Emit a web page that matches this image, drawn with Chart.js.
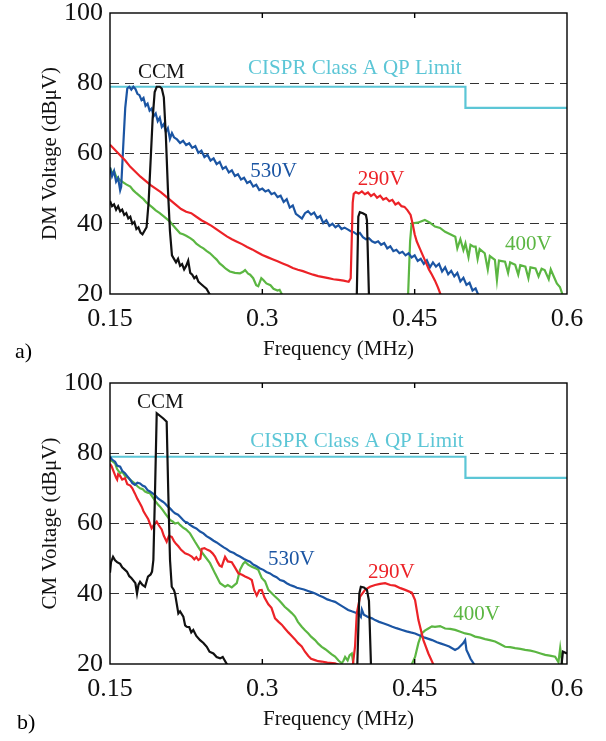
<!DOCTYPE html>
<html>
<head>
<meta charset="utf-8">
<script src="https://cdn.jsdelivr.net/npm/chart.js@4.4.0/dist/chart.umd.min.js"></script>
<style>
  body { margin: 0; background: #fff; width: 606px; height: 741px; position: relative; overflow: hidden; font-family: "Liberation Serif", serif; }
  canvas { position: absolute; left: 0; }
  #dm { top: 0; }
  #cm { top: 365px; }
  .tag { position: absolute; font-size: 22px; line-height: 22px; color: #000; }
</style>
</head>
<body>
<canvas id="dm" width="606" height="365"></canvas>
<canvas id="cm" width="606" height="376"></canvas>
<div class="tag" style="left:15px;top:340px">a)</div>
<div class="tag" style="left:17px;top:711px">b)</div>
<script>
// axis ticks
const xTicks = [0.15, 0.3, 0.45, 0.6];
const yTicks = [20, 40, 60, 80, 100];

// CISPR class A quasi-peak limit
const limit = [[0.15, 79], [0.5, 79], [0.5, 73], [0.6, 73]];

// ---- a) DM voltage, [MHz, dBuV]
const dmBlue = [[0.150,56],[0.152,53.5],[0.154,55],[0.156,52],[0.158,53],[0.160,49.5],[0.161,50.5],[0.163,62],[0.165,73],[0.167,78.5],[0.169,79],[0.171,78.2],[0.173,79],[0.175,78.4],[0.177,77],[0.179,76.6],[0.181,75.2],[0.183,75.8],[0.185,73.6],[0.187,74.2],[0.189,72.2],[0.191,72.8],[0.193,70.6],[0.195,71.4],[0.197,69.2],[0.199,70.2],[0.201,67.6],[0.203,68.4],[0.205,66.2],[0.207,67.2],[0.209,64.2],[0.211,65.8],[0.213,64.6],[0.216,64],[0.219,63],[0.222,63.6],[0.225,62.4],[0.228,62.9],[0.231,61.6],[0.234,62.1],[0.237,60.2],[0.240,60.8],[0.243,59],[0.246,59.6],[0.249,58],[0.252,58.6],[0.255,57],[0.258,57.6],[0.261,55.6],[0.264,56.2],[0.267,54.6],[0.270,55.2],[0.273,53.6],[0.276,54.1],[0.279,52.6],[0.282,53.1],[0.285,51.6],[0.288,52.1],[0.291,50.6],[0.294,51.1],[0.297,49.6],[0.300,50],[0.303,49.2],[0.306,49.6],[0.309,48.4],[0.312,48.8],[0.315,47.6],[0.318,48],[0.321,46.2],[0.324,47],[0.327,44.6],[0.330,45.2],[0.333,42.8],[0.336,42.2],[0.339,41.5],[0.342,43],[0.345,43.6],[0.348,42.6],[0.351,43.2],[0.354,41.6],[0.357,42.2],[0.360,40.2],[0.363,41],[0.366,39.4],[0.369,40],[0.372,39],[0.375,39.6],[0.378,38.5],[0.381,38.9],[0.384,38.4],[0.387,37.9],[0.390,37.6],[0.393,37],[0.396,37.4],[0.399,36.2],[0.402,35.6],[0.405,35.9],[0.408,35],[0.411,34.6],[0.414,35],[0.417,34],[0.420,34.5],[0.423,33],[0.426,33.6],[0.429,32.2],[0.432,32.6],[0.435,31.6],[0.438,32],[0.441,31],[0.444,31.6],[0.447,30.4],[0.450,31],[0.453,29.4],[0.456,30],[0.459,28.6],[0.462,29.6],[0.465,27.6],[0.468,29],[0.471,27.8],[0.474,28.6],[0.477,26.4],[0.480,27.6],[0.483,25.6],[0.486,26.6],[0.489,25],[0.492,26],[0.495,23.6],[0.498,24.6],[0.501,22.6],[0.504,23.2],[0.507,21],[0.510,21.6],[0.513,19.5]];
const dmRed = [[0.150,62.5],[0.155,61],[0.160,59.5],[0.165,58],[0.170,56.2],[0.175,54.8],[0.180,53.4],[0.185,52.2],[0.190,51],[0.195,50],[0.200,49],[0.205,47.8],[0.210,46.6],[0.215,45.4],[0.220,44.2],[0.225,43.4],[0.230,43],[0.235,42],[0.240,41],[0.245,40.2],[0.250,39.4],[0.255,38.4],[0.260,37.4],[0.265,36.4],[0.270,35.6],[0.275,34.9],[0.280,34.2],[0.285,33.4],[0.290,32.7],[0.295,31.9],[0.300,31.1],[0.305,30.5],[0.310,29.9],[0.315,29.3],[0.320,28.7],[0.325,28.1],[0.330,27.4],[0.335,26.9],[0.340,26.5],[0.345,26],[0.350,25.5],[0.355,25.1],[0.360,24.8],[0.365,24.5],[0.370,24.2],[0.375,24],[0.380,23.8],[0.385,23.5],[0.387,24.5],[0.388,35],[0.389,46],[0.390,48.5],[0.392,49],[0.395,48.6],[0.398,49.2],[0.401,48.4],[0.404,48.9],[0.407,47.9],[0.410,48.5],[0.413,47.4],[0.416,48],[0.419,46.9],[0.422,47.3],[0.425,46.4],[0.428,46.8],[0.431,45.5],[0.434,46],[0.437,45],[0.440,44.8],[0.443,43.8],[0.446,42.5],[0.448,40],[0.450,37],[0.452,35],[0.455,33],[0.458,31],[0.461,29],[0.464,27],[0.467,25.5],[0.470,23.8],[0.473,21.8],[0.476,19.5]];
const dmGreen1 = [[0.150,56],[0.152,54.5],[0.154,55],[0.156,53.5],[0.158,53],[0.160,52.4],[0.163,51.8],[0.166,51.2],[0.170,50.6],[0.173,49.5],[0.176,48.7],[0.180,47.7],[0.183,47],[0.186,46],[0.189,45.3],[0.192,44.6],[0.195,43.8],[0.199,43],[0.202,42.3],[0.205,41.6],[0.209,40.6],[0.212,39.6],[0.215,38.6],[0.219,37.3],[0.222,37],[0.225,36.6],[0.229,35.9],[0.232,35.3],[0.235,34.3],[0.239,33.5],[0.242,33],[0.245,32.3],[0.2485,31.6],[0.252,30.6],[0.255,29.8],[0.258,28.7],[0.261,28],[0.264,27.2],[0.268,26.4],[0.273,26],[0.278,25.9],[0.281,26.3],[0.283,26.8],[0.286,25.8],[0.288,25.5],[0.291,24.5],[0.294,22.5],[0.296,22.2],[0.299,24.5],[0.301,24],[0.304,23],[0.308,22.5],[0.311,21.5],[0.315,21],[0.317,21.2],[0.320,19.5]];
const dmGreen2 = [[0.4435,19.5],[0.4455,35],[0.447,40.1],[0.453,40.3],[0.460,41.1],[0.465,40.3],[0.470,39.2],[0.475,38.8],[0.480,37.7],[0.485,37],[0.490,36.3],[0.492,33],[0.495,35.6],[0.498,32.5],[0.500,34.4],[0.503,30.5],[0.505,34],[0.508,33.5],[0.510,33.5],[0.512,30],[0.514,32.8],[0.519,31.6],[0.522,27],[0.524,30.8],[0.529,29.7],[0.531,24],[0.533,29.5],[0.539,29.2],[0.542,26],[0.544,29],[0.549,28.3],[0.552,25.5],[0.554,28.2],[0.559,27.8],[0.562,24.5],[0.564,27.6],[0.569,27.3],[0.572,25],[0.575,27.2],[0.578,26.8],[0.582,24.2],[0.584,27],[0.587,25],[0.590,23],[0.593,22],[0.596,19.5]];
const dmBlack1 = [[0.150,46.5],[0.152,45],[0.154,45.5],[0.156,44],[0.158,45],[0.160,43.5],[0.162,44],[0.164,42.5],[0.166,43],[0.168,41.5],[0.170,42],[0.172,40],[0.174,40.5],[0.176,38.5],[0.178,39],[0.180,37.5],[0.182,37],[0.184,38],[0.186,39],[0.188,46],[0.190,58],[0.192,70],[0.194,77.5],[0.196,79],[0.199,79],[0.201,78.5],[0.203,76],[0.205,65],[0.207,50],[0.209,38],[0.211,31],[0.213,30],[0.215,29],[0.217,30],[0.219,28],[0.221,28.5],[0.223,27],[0.225,28],[0.227,29.5],[0.229,26],[0.231,25.5],[0.233,24.5],[0.235,25],[0.237,23.5],[0.239,23],[0.241,22.5],[0.243,22],[0.245,21.5],[0.247,20.5],[0.249,19.5]];
const dmBlack2 = [[0.393,19.5],[0.3945,42],[0.396,43.3],[0.399,43],[0.402,42.5],[0.403,41],[0.405,19.5]];

// ---- b) CM voltage, [MHz, dBuV]
const cmBlue = [[0.150,79],[0.152,78.2],[0.155,77.6],[0.157,76.5],[0.160,76.2],[0.162,75],[0.1648,74.3],[0.167,73.5],[0.170,72.4],[0.172,71.5],[0.1746,71],[0.177,71.6],[0.1796,71.4],[0.182,70.8],[0.1845,70.5],[0.187,69.5],[0.1894,69.1],[0.192,68.6],[0.1943,68.1],[0.197,67.2],[0.1993,66.7],[0.202,66.2],[0.2042,65.7],[0.207,64.8],[0.2091,64.3],[0.212,63.4],[0.214,62.9],[0.217,62.5],[0.219,61.9],[0.222,61],[0.2239,60.5],[0.226,60.3],[0.2288,59.6],[0.232,59],[0.235,58.6],[0.2387,57.7],[0.242,57.2],[0.245,56.4],[0.2485,55.8],[0.252,55.1],[0.255,54.6],[0.2584,53.9],[0.262,53.2],[0.265,52.7],[0.2682,52],[0.272,51.6],[0.275,51],[0.278,50.6],[0.282,49.9],[0.285,49.5],[0.2879,49.1],[0.291,48.3],[0.294,47.9],[0.2978,47.2],[0.301,46.8],[0.304,46.2],[0.3076,45.8],[0.311,45.1],[0.314,44.7],[0.3175,43.9],[0.321,43.6],[0.324,43],[0.3273,42.5],[0.331,42.1],[0.334,41.7],[0.337,41.5],[0.341,41.2],[0.345,40.8],[0.349,40.4],[0.352,40.1],[0.356,39.5],[0.360,39],[0.364,38.4],[0.368,38],[0.3716,37.7],[0.376,36.9],[0.380,36.2],[0.3845,35.4],[0.388,35],[0.392,34.6],[0.395,34.2],[0.397,33.4],[0.398,35.5],[0.400,34],[0.404,33.4],[0.408,33],[0.411,32.5],[0.415,32],[0.419,31.6],[0.4238,31.1],[0.428,30.6],[0.432,30.2],[0.4376,29.7],[0.442,29.3],[0.446,29],[0.4504,28.7],[0.455,28.1],[0.460,27.5],[0.4672,26.8],[0.472,26.2],[0.476,25.8],[0.480,25.4],[0.484,25],[0.4898,24],[0.493,24.5],[0.4977,25.9],[0.4997,26.8],[0.501,24],[0.5027,23],[0.505,21.5],[0.5095,19.5]];
const cmRed1 = [[0.150,77],[0.1517,76.2],[0.154,74.5],[0.156,73],[0.157,72.5],[0.158,74],[0.160,73.5],[0.162,72.5],[0.1648,72.9],[0.167,71.2],[0.170,70.8],[0.172,70],[0.1746,68.5],[0.177,67],[0.179,66],[0.1812,64.8],[0.183,63.5],[0.185,62.5],[0.1877,61.2],[0.191,58.6],[0.193,59.5],[0.196,60.5],[0.198,59.5],[0.2009,58.3],[0.203,56.5],[0.2058,54.8],[0.208,56.5],[0.2108,56.2],[0.213,55],[0.215,54.2],[0.2173,53.5],[0.220,52.5],[0.2239,51.5],[0.227,51.2],[0.2305,50.6],[0.233,49.8],[0.235,50.4],[0.237,49.6],[0.239,50],[0.2403,52.8],[0.243,53],[0.246,52.5],[0.2485,52.2],[0.251,51.5],[0.2534,50.6],[0.256,49],[0.258,48],[0.260,47.7],[0.2633,50.5],[0.266,49.2],[0.2699,49],[0.273,47.5],[0.2764,45.8],[0.280,45.4],[0.283,44.9],[0.2863,44.5],[0.2896,43.9],[0.292,41],[0.2945,39.5],[0.297,41],[0.2994,41.1],[0.302,39],[0.3059,37],[0.309,36],[0.3125,33],[0.316,32],[0.3191,31.2],[0.322,30.2],[0.3256,29],[0.329,28],[0.3322,27],[0.335,26],[0.3388,25],[0.342,23.5],[0.3453,22.3],[0.348,21.5],[0.3519,21.1],[0.355,20.8],[0.3585,20.7],[0.364,20.4],[0.3716,20.2],[0.377,19.5]];
const cmRed2 = [[0.389,19.5],[0.3913,25],[0.393,34.4],[0.3963,39.2],[0.4012,41.1],[0.406,42],[0.411,42.5],[0.416,42.8],[0.4209,43],[0.426,42.5],[0.4307,42.3],[0.436,41.6],[0.4406,41.1],[0.4472,40.3],[0.4504,38.2],[0.4537,32.5],[0.4586,26.8],[0.4635,23],[0.469,19.5]];
const cmGreen1 = [[0.150,78.1],[0.152,77.8],[0.155,77.1],[0.157,75.5],[0.160,74.3],[0.162,74.8],[0.165,73.5],[0.168,73],[0.170,72.4],[0.1746,71.4],[0.177,70.6],[0.1796,70],[0.182,69.8],[0.1845,69.1],[0.187,68.8],[0.1894,68.6],[0.192,67.5],[0.1943,66.5],[0.197,65.5],[0.1993,64.8],[0.202,63.8],[0.2042,62.9],[0.207,61.8],[0.2091,61],[0.212,60.5],[0.214,60],[0.217,60.2],[0.219,59.6],[0.222,58.8],[0.2249,58.3],[0.2288,57.2],[0.2337,54.8],[0.2387,52.5],[0.2436,50.6],[0.2485,48.7],[0.2534,45.8],[0.2584,43],[0.2633,42],[0.266,42.5],[0.2699,41.8],[0.2748,43],[0.278,46.8],[0.281,48.5],[0.283,49.1],[0.286,48.3],[0.2896,47.7],[0.293,47.3],[0.296,46.8],[0.2994,44.5],[0.3027,43.5],[0.3059,41.1],[0.309,40.2],[0.3125,39.2],[0.316,38.3],[0.3191,37.3],[0.322,36.3],[0.3256,35.4],[0.329,34.5],[0.3322,33.5],[0.335,32],[0.3388,30.6],[0.342,29.6],[0.3453,28.7],[0.348,27.8],[0.3519,26.8],[0.355,25.8],[0.3585,24.9],[0.362,24.2],[0.365,23.5],[0.368,22.8],[0.3716,22.1],[0.375,21],[0.3782,20.2],[0.380,21],[0.3815,22],[0.384,21],[0.386,22.5],[0.3881,23],[0.390,19.5]];
const cmGreen2 = [[0.4465,19.5],[0.4504,22],[0.4537,26],[0.457,28.7],[0.460,29.5],[0.4635,30.1],[0.467,30.7],[0.470,30.6],[0.475,30.8],[0.480,30.1],[0.485,30],[0.4898,29.7],[0.495,29.2],[0.4997,28.7],[0.505,28.4],[0.5095,27.8],[0.5145,27.5],[0.5194,27.1],[0.524,26.8],[0.5292,26.4],[0.534,25.7],[0.539,24.9],[0.544,24.8],[0.5489,24.5],[0.554,24.3],[0.5588,24],[0.564,23.8],[0.5686,23.5],[0.574,23],[0.5785,22.6],[0.583,22.4],[0.5883,22.1],[0.5916,20.5],[0.5933,24.5],[0.5955,19.5]];
const cmBlack1 = [[0.150,46],[0.151,49],[0.153,50.5],[0.155,49.5],[0.157,49],[0.160,48.5],[0.162,47.5],[0.164,47],[0.1667,46.3],[0.169,45],[0.171,44.5],[0.1727,43.9],[0.175,43],[0.1766,40.1],[0.178,42.5],[0.1796,43.4],[0.182,42.5],[0.1845,42],[0.186,43.5],[0.1874,44.9],[0.190,45.5],[0.1914,46.3],[0.1927,49.6],[0.1943,68.6],[0.196,91.4],[0.2025,89.9],[0.2058,89],[0.2074,68.6],[0.2091,49.6],[0.2108,42],[0.213,41],[0.214,40.1],[0.2173,34.4],[0.219,35],[0.2222,33.5],[0.224,31],[0.2255,30.6],[0.228,30.5],[0.230,29],[0.232,29.7],[0.235,28],[0.2387,26.8],[0.242,26],[0.2453,24.9],[0.248,23.5],[0.2518,23],[0.255,22],[0.2584,21.6],[0.261,22],[0.263,21],[0.266,19.5]];
const cmBlack2 = [[0.3935,19.5],[0.3955,40],[0.397,42],[0.400,41.8],[0.403,41.1],[0.405,38],[0.407,19.5]];
const cmBlack3 = [[0.5945,19.5],[0.596,23.5],[0.600,23]];

// text labels inside the plots: [text, colour, x (MHz), y (dBuV) of baseline start]
const dmLabels = [["CCM", "#111", 0.1776, 81.5], ["CISPR Class A QP Limit", "#5cc6d6", 0.286, 82.5], ["530V", "#1b55a3", 0.288, 53.3], ["290V", "#ec2227", 0.394, 51], ["400V", "#5bb642", 0.539, 32.5]];
const cmLabels = [["CCM", "#111", 0.1766, 92.9], ["CISPR Class A QP Limit", "#5cc6d6", 0.288, 81.8], ["530V", "#1b55a3", 0.3056, 48.2], ["290V", "#ec2227", 0.404, 44.5], ["400V", "#5bb642", 0.488, 32.5]];

const SERIF = '"Liberation Serif", "Times New Roman", serif';
Chart.defaults.font.family = SERIF;
Chart.defaults.color = "#111";

const pts = (arr) => arr.map(([x, y]) => ({ x, y }));
const line = (arr, color) => ({ data: pts(arr), borderColor: color, borderWidth: 2.2, pointRadius: 0, tension: 0, fill: false });

const framePlugin = {
  id: "frame",
  afterDatasetsDraw(chart, args, opts) {
    const { ctx, chartArea: a, scales: { x, y } } = chart;
    ctx.save();
    ctx.strokeStyle = "#000";
    ctx.lineWidth = 1.4;
    ctx.strokeRect(a.left, a.top, a.right - a.left, a.bottom - a.top);
    ctx.beginPath();
    xTicks.slice(1, -1).forEach((v) => {
      const px = x.getPixelForValue(v);
      ctx.moveTo(px, a.top); ctx.lineTo(px, a.top + 5);
      ctx.moveTo(px, a.bottom); ctx.lineTo(px, a.bottom - 5);
    });
    ctx.stroke();
    ctx.font = "21px " + SERIF;
    ctx.textAlign = "left";
    ctx.textBaseline = "alphabetic";
    opts.labels.forEach(([t, c, lx, ly]) => {
      ctx.fillStyle = c;
      ctx.fillText(t, x.getPixelForValue(lx), y.getPixelForValue(ly));
    });
    ctx.restore();
  }
};

function makeChart(id, yTitle, sets, labels, padTop, xHeight, xTitlePad) {
  return new Chart(document.getElementById(id), {
    type: "line",
    data: { datasets: sets },
    options: {
      responsive: false,
      animation: false,
      layout: { padding: { left: 0, right: 39, top: padTop, bottom: 0 } },
      plugins: { legend: { display: false }, tooltip: { enabled: false }, frame: { labels } },
      scales: {
        x: {
          type: "linear", min: 0.15, max: 0.6,
          afterBuildTicks: (s) => { s.ticks = xTicks.map((v) => ({ value: v })); },
          afterFit: (s) => { s.height = xHeight; },
          ticks: { font: { size: 26 }, color: "#111", padding: 10, maxRotation: 0, callback: (v) => String(v) },
          grid: { display: false, drawTicks: false },
          border: { display: false },
          title: { display: true, text: "Frequency (MHz)", font: { size: 21 }, color: "#111", padding: { top: 0, bottom: xTitlePad } }
        },
        y: {
          min: 20, max: 100,
          afterBuildTicks: (s) => { s.ticks = yTicks.map((v) => ({ value: v })); },
          afterFit: (s) => { s.width = 110; s.paddingTop = 0; s.paddingBottom = 0; },
          ticks: { font: { size: 26, lineHeight: 0.8 }, color: "#111", padding: 7 },
          grid: { drawTicks: false, lineWidth: 1, color: (c) => (c.tick && c.tick.value > 20 && c.tick.value < 100 ? "#333" : "rgba(0,0,0,0)") },
          border: { display: false, dash: [9, 6] },
          title: { display: true, text: yTitle, font: { size: 21 }, color: "#111", padding: { top: 38, bottom: 0 } }
        }
      }
    },
    plugins: [framePlugin]
  });
}

makeChart("dm", "DM Voltage (dBμV)", [
  line(dmBlack1, "#111"), line(dmBlack2, "#111"),
  line(dmRed, "#ec2227"),
  line(dmBlue, "#1b55a3"),
  line(dmGreen1, "#5bb642"), line(dmGreen2, "#5bb642"),
  line(limit, "#5cc6d6")
], dmLabels, 13, 71, 3);

makeChart("cm", "CM Voltage (dBμV)", [
  line(cmBlack1, "#111"), line(cmBlack2, "#111"), line(cmBlack3, "#111"),
  line(cmRed1, "#ec2227"), line(cmRed2, "#ec2227"),
  line(cmBlue, "#1b55a3"),
  line(cmGreen1, "#5bb642"), line(cmGreen2, "#5bb642"),
  line(limit, "#5cc6d6")
], cmLabels, 18, 77, 9);
</script>
</body>
</html>
